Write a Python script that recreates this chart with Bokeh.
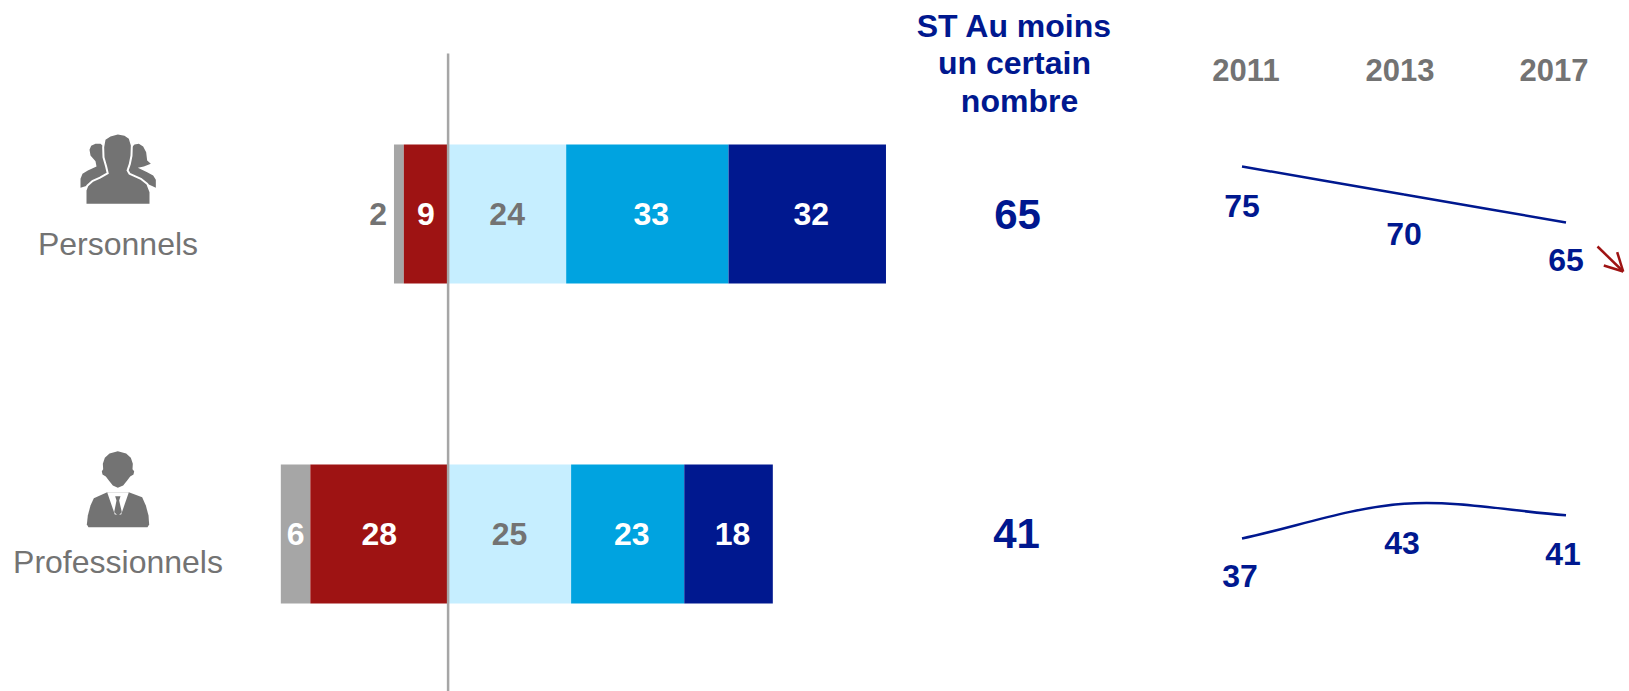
from bokeh.plotting import figure
from bokeh.models import Range1d
from bokeh.core.properties import value
from bokeh.embed import file_html
from bokeh.resources import INLINE

# ---------- data ----------
categories = ["Personnels", "Professionnels"]
neg_grey = [2, 6]
neg_red = [9, 28]
pos_light = [24, 25]
pos_mid = [33, 23]
pos_dark = [32, 18]
totals = [65, 41]
header_lines = ["ST Au moins", "un certain", "nombre"]
years = ["2011", "2013", "2017"]
trend_personnels = [75, 70, 65]
trend_professionnels = [37, 43, 41]

GREY = "#A6A6A6"
RED = "#9E1313"
LIGHT = "#C6EEFF"
MID = "#00A3E0"
DARK = "#00188F"
TXT_GREY = "#737373"
ICON = "#737373"
FONT = value("Liberation Sans")

W, H = 1629, 691
PAGE_L, PAGE_T = 0, 0
PAGE_R, PAGE_B = PAGE_L + W, PAGE_T + H

# scale set-up: value axis (bars), row axis, page-pixel helper, trend axes
ZERO_X, UNIT_X = 447.6, 4.92
ROW0_Y, ROW_STEP = 213.4, 320.0
TREND_X0, TREND_STEP = 1241.5, 162.0
TOP_Y75, TOP_UNIT = 166.0, 5.6
BOT_Y37, BOT_UNIT = 538.0, 5.8

p = figure(width=W, height=H, output_backend="svg", toolbar_location=None,
           x_range=Range1d((PAGE_L - ZERO_X) / UNIT_X, (PAGE_R - ZERO_X) / UNIT_X),
           y_range=Range1d((PAGE_B - ROW0_Y) / ROW_STEP, (PAGE_T - ROW0_Y) / ROW_STEP),
           min_border=0, outline_line_color=None, x_axis_type=None, y_axis_type=None)
p.grid.visible = False
p.background_fill_color = "white"
p.border_fill_color = "white"

p.extra_x_ranges = {
    "px": Range1d(PAGE_L, PAGE_R),
    "trend": Range1d((PAGE_L - TREND_X0) / TREND_STEP, (PAGE_R - TREND_X0) / TREND_STEP),
}
p.extra_y_ranges = {
    "py": Range1d(PAGE_B, PAGE_T),
    "top": Range1d(75 - (PAGE_B - TOP_Y75) / TOP_UNIT, 75 - (PAGE_T - TOP_Y75) / TOP_UNIT),
    "bot": Range1d(37 - (PAGE_B - BOT_Y37) / BOT_UNIT, 37 - (PAGE_T - BOT_Y37) / BOT_UNIT),
}
PX = dict(x_range_name="px", y_range_name="py")

rows = list(range(len(categories)))
BAR_H = 139.0 / ROW_STEP

# ---------- icons (decorations, page pixels) ----------
def z1(pts):
    return [a / 3 for a, _ in pts], [110 + b / 3 for _, b in pts]
def z2(pts):
    return [a / 3 for a, _ in pts], [430 + b / 3 for _, b in pts]

back_l = [(240, 232), (240, 205), (246, 190), (262, 180), (288, 168), (285, 152), (270, 135), (267, 118),
          (272, 106), (285, 100), (300, 100), (312, 110), (330, 180), (320, 200), (262, 225)]
back_r = [(466, 232), (466, 208), (458, 195), (440, 185), (412, 172), (430, 168), (451, 160), (440, 150),
          (437, 125), (428, 108), (415, 100), (402, 102), (390, 115), (375, 180), (385, 200), (445, 222)]
center = [(258, 280), (258, 240), (263, 227), (278, 214), (300, 204), (325, 190), (320, 168), (312, 140),
          (311, 110), (315, 88), (330, 78), (352, 72), (372, 76), (385, 85), (391, 105), (390, 135),
          (385, 160), (378, 180), (385, 192), (420, 208), (438, 222), (447, 245), (447, 280)]
for poly in (back_l, back_r):
    xs, ys = z1(poly)
    p.patch(xs, ys, fill_color=ICON, line_color=None, **PX)
xs, ys = z1(center)
p.patch(xs, ys, fill_color=ICON, line_color="white", line_width=4, line_join="round", **PX)
p.patch(xs, ys, fill_color=ICON, line_color=None, **PX)

head = [(325, 150), (316, 138), (306, 132), (304, 122), (308, 116), (307, 100), (313, 82), (327, 69), (352, 62),
        (377, 69), (391, 82), (397, 100), (396, 116), (401, 122), (399, 132), (389, 138), (380, 150),
        (368, 165), (352, 172), (337, 165)]
body = [(264, 290), (259, 282), (262, 255), (270, 225), (280, 203), (320, 185), (385, 185), (425, 200),
        (436, 225), (444, 255), (446, 282), (441, 290)]
shirt = [(320, 185), (385, 185), (362, 252), (343, 252)]
tie = [(344, 197), (360, 197), (356, 210), (364, 245), (353, 256), (341, 245), (348, 210)]
for poly, col in ((head, ICON), (body, ICON), (shirt, "white"), (tie, ICON)):
    xs, ys = z2(poly)
    p.patch(xs, ys, fill_color=col, line_color=None, **PX)

# ---------- bars ----------
def hb(left, right, color):
    p.hbar(y=rows, left=left, right=right, height=BAR_H, fill_color=color, line_color=None)

left_red = [-a for a in neg_red]
left_grey = [-(a + b) for a, b in zip(neg_red, neg_grey)]
end_light = pos_light
end_mid = [a + b for a, b in zip(pos_light, pos_mid)]
end_dark = [a + b for a, b in zip(end_mid, pos_dark)]
zeros = [0] * len(rows)
hb(left_grey, left_red, GREY)
hb(left_red, zeros, RED)
hb(zeros, end_light, LIGHT)
hb(end_light, end_mid, MID)
hb(end_mid, end_dark, DARK)

# vertical axis line at zero
p.segment(x0=[0], x1=[0], y0=[(53 - ROW0_Y) / ROW_STEP], y1=[(PAGE_B - ROW0_Y) / ROW_STEP],
          line_color=GREY, line_width=2.5)

BAR_FS = "32px"
def labels(ys, xs, vals, color, align="center", x_offset=0):
    p.text(x=xs, y=ys, text=[str(v) for v in vals], text_color=color, text_font=FONT,
           text_font_style="bold", text_font_size=BAR_FS, text_align=align,
           text_baseline="middle", x_offset=x_offset, y_offset=0)

labels(rows[1:], [(l + r) / 2 for l, r in zip(left_grey, left_red)][1:], neg_grey[1:], "white")
labels(rows[:1], left_grey[:1], neg_grey[:1], TXT_GREY, align="right", x_offset=-7)
labels(rows, [l / 2 for l in left_red], neg_red, "white")
labels(rows, [e / 2 for e in end_light], pos_light, TXT_GREY)
labels(rows, [(a + b) / 2 for a, b in zip(end_light, end_mid)], pos_mid, "white", x_offset=4)
labels(rows, [(a + b) / 2 for a, b in zip(end_mid, end_dark)], pos_dark, "white", x_offset=4)

# category labels
p.text(x=[117.5, 117.5], y=[243, 561], text=categories, text_color=TXT_GREY, text_font=FONT,
       text_font_size="32px", text_align="center", text_baseline="middle", **PX)

# totals column
p.text(x=[1017, 1016], y=[214, 532.5], text=[str(t) for t in totals], text_color=DARK, text_font=FONT,
       text_font_style="bold", text_font_size="42px", text_align="center", text_baseline="middle", **PX)

# header
p.text(x=[1014, 1014, 1019], y=[25, 62.5, 100.5], text=header_lines, text_color=DARK, text_font=FONT,
       text_font_style="bold", text_font_size="32px", text_align="center", text_baseline="middle", **PX)

# years
p.text(x=[1245.5, 1399.5, 1553.5], y=[69, 69, 69], text=years, text_color=TXT_GREY, text_font=FONT,
       text_font_style="bold", text_font_size="31px", text_align="center", text_baseline="middle", **PX)

# ---------- trend lines: smooth curve through the values ----------
def smooth(vals, rng):
    n = len(vals)
    x0, y0, x1, y1, cx0, cy0, cx1, cy1 = [], [], [], [], [], [], [], []
    for i in range(n - 1):
        b, c = vals[i], vals[i + 1]
        a = vals[i - 1] if i > 0 else 2 * b - c
        d = vals[i + 2] if i + 2 < n else 2 * c - b
        x0.append(i); y0.append(b); x1.append(i + 1); y1.append(c)
        cx0.append(i + 1 / 3); cy0.append(b + (c - a) / 6)
        cx1.append(i + 2 / 3); cy1.append(c - (d - b) / 6)
    p.bezier(x0=x0, y0=y0, x1=x1, y1=y1, cx0=cx0, cy0=cy0, cx1=cx1, cy1=cy1,
             line_color=DARK, line_width=2.5, x_range_name="trend", y_range_name=rng)

smooth(trend_personnels, "top")
smooth(trend_professionnels, "bot")

idx = list(range(len(years)))
for vals, rng, xo, yo in ((trend_personnels, "top", [0, 0, 0], [39, 39.5, 37]),
                          (trend_professionnels, "bot", [-2, -2, -3], [37, 39, 39])):
    p.text(x=idx, y=vals, text=[str(v) for v in vals], text_color=DARK, text_font=FONT,
           text_font_style="bold", text_font_size="32px", text_align="center",
           text_baseline="middle", x_offset=xo, y_offset=yo,
           x_range_name="trend", y_range_name=rng)

# trend arrow
p.segment(x0=[1597, 1616.7, 1603.3], y0=[246, 251.7, 265],
          x1=[1622.7, 1622.7, 1622.7], y1=[271, 271, 271],
          line_color=RED, line_width=2.5, **PX)

open("out.html", "w").write(file_html(p, INLINE))
